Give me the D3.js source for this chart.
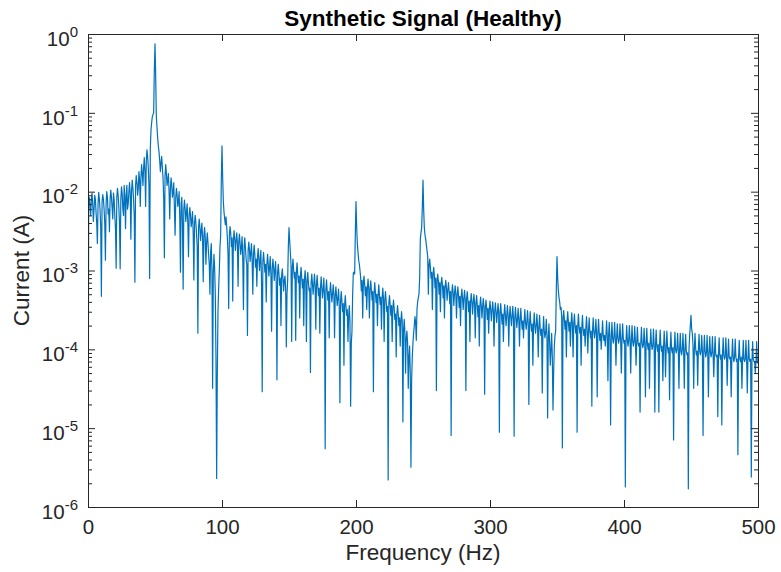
<!DOCTYPE html>
<html><head><meta charset="utf-8">
<script src="https://cdn.jsdelivr.net/npm/d3@7"></script>
<style>body{margin:0;background:#fff}svg{display:block}</style>
</head><body><svg id="chart" width="781" height="572"></svg>
<script>
// ---- data ----
// amplitude at whole-Hz bins: 0, 1, 2, ... 500 Hz
const amplitudeWholeHz = [
1e-7,8.5e-3,5.0e-3,9.6e-3,4.2e-3,9.0e-3,5.5e-3,2.2e-3,9.8e-3,5.8e-3,
4.7e-4,9.2e-3,6.0e-3,1.35e-3,1.0e-2,5.2e-3,3.1e-3,1.05e-2,6.2e-3,9.6e-3,
5.0e-3,1.07e-3,1.1e-2,6.5e-3,1.05e-3,1.15e-2,6.0e-3,1.2e-2,3.4e-3,1.2e-2,
7.0e-3,1.3e-2,2.5e-3,1.4e-2,8.0e-3,7.1e-4,1.6e-2,9.0e-3,1.8e-2,6.5e-3,
2.2e-2,1.2e-2,2.7e-2,6.5e-3,3.4e-2,2.0e-2,7.9e-4,6.0e-2,9.0e-2,1.0e-1,
7.5e-1,9.0e-2,4.8e-2,3.2e-2,1.8e-2,2.8e-2,1.5e-2,1.45e-3,2.2e-2,1.2e-2,
1.7e-2,4.5e-3,1.5e-2,8.5e-3,1.3e-2,2.8e-3,1.1e-2,6.5e-3,1.0e-2,9.5e-4,
8.5e-3,5.8e-4,7.8e-3,4.2e-3,7.0e-3,1.5e-3,6.3e-3,3.6e-3,5.6e-3,7.6e-4,
5.0e-3,2.9e-3,1.6e-4,4.5e-3,2.4e-3,4.0e-3,7.2e-4,3.5e-3,1.2e-3,3.0e-3,
1.6e-3,5.0e-4,2.2e-3,3.2e-5,1.6e-3,5.0e-4,2.3e-6,3.0e-4,1.0e-3,2.8e-3,
3.8e-2,7.5e-3,4.5e-3,4.8e-3,2.6e-3,3.3e-4,3.6e-3,2.0e-3,4.1e-4,3.2e-3,
1.8e-3,3.0e-3,6.3e-4,2.9e-3,1.6e-3,2.7e-3,3.2e-4,2.6e-3,1.4e-3,1.5e-4,
2.3e-3,1.3e-3,2.2e-3,5.0e-4,2.1e-3,1.1e-3,6.3e-4,1.9e-3,1.0e-3,1.8e-3,
2.9e-5,1.7e-3,9.5e-4,4.0e-4,1.6e-3,8.5e-4,1.5e-3,1.7e-4,1.4e-3,7.5e-4,
1.3e-3,4.1e-5,1.2e-3,6.5e-4,2.0e-4,1.05e-3,5.5e-4,8.5e-4,1.07e-4,7.5e-4,
3.5e-3,1.7e-3,1.26e-4,1.4e-3,8.0e-4,1.3e-4,1.25e-3,7.0e-4,2.5e-4,1.1e-3,
6.0e-4,2.0e-4,1.0e-3,1.26e-4,9.5e-4,5.5e-4,5.1e-5,9.0e-4,5.0e-4,9.0e-4,
1.8e-4,8.7e-4,4.8e-4,1.6e-4,8.3e-4,4.5e-4,8.0e-4,5.5e-6,7.6e-4,4.2e-4,
1.4e-4,7.0e-4,4.0e-4,6.6e-4,1.4e-4,6.2e-4,3.6e-4,5.8e-4,2.1e-5,5.4e-4,
3.0e-4,6.3e-5,4.8e-4,2.7e-4,1.26e-4,3.6e-4,1.9e-5,1.7e-4,9.3e-4,9.0e-4,
7.5e-3,2.2e-3,1.35e-3,1.0e-3,5.5e-4,2.5e-4,8.5e-4,4.8e-4,3.2e-4,7.8e-4,
2.5e-4,7.4e-4,4.2e-4,2.9e-5,7.0e-4,3.9e-4,2.0e-4,6.6e-4,3.7e-4,1.8e-4,
6.0e-4,1.26e-4,5.4e-4,3.0e-4,2.2e-6,4.8e-4,2.7e-4,1.26e-4,4.2e-4,2.4e-4,
8.0e-5,3.6e-4,2.0e-4,1.1e-4,3.0e-4,1.2e-5,2.4e-4,5.0e-5,1.7e-4,3.2e-5,
1.1e-4,3.2e-6,8.0e-5,1.6e-4,2.6e-4,1.3e-4,4.0e-4,5.0e-4,2.5e-3,3.5e-3,
1.4e-2,3.5e-3,2.5e-3,1.8e-3,5.0e-4,1.4e-3,8.0e-4,3.2e-4,1.1e-3,6.0e-4,
3.0e-5,9.0e-4,5.0e-4,3.0e-4,8.2e-4,4.5e-4,2.5e-4,7.5e-4,4.2e-4,7.0e-4,
3.8e-4,8.1e-6,6.6e-4,3.6e-4,6.4e-4,2.5e-4,6.2e-4,3.4e-4,2.0e-4,5.8e-4,
3.2e-4,5.6e-4,3.0e-5,5.4e-4,3.0e-4,1.26e-4,5.1e-4,2.8e-4,5.0e-4,1.4e-4,
4.8e-4,2.6e-4,1.1e-4,4.6e-4,2.5e-4,4.4e-4,2.7e-5,4.2e-4,2.4e-4,1.6e-4,
4.1e-4,2.3e-4,4.0e-4,1.1e-4,3.9e-4,2.2e-4,3.8e-4,8.9e-6,3.8e-4,2.1e-4,
1.26e-4,3.7e-4,2.0e-4,3.6e-4,1.1e-4,3.5e-4,2.0e-4,3.5e-4,7.9e-6,3.4e-4,
1.9e-4,3.3e-4,1.1e-4,3.3e-4,1.8e-4,1.4e-4,3.2e-4,1.8e-4,3.1e-4,2.0e-5,
3.0e-4,1.7e-4,6.3e-5,2.9e-4,1.6e-4,2.8e-4,8.0e-5,2.7e-4,1.5e-4,2.8e-5,
2.6e-4,1.4e-4,2.4e-4,1.35e-5,2.1e-4,6.3e-5,1.6e-4,1.7e-5,1.1e-4,1.7e-4,
1.5e-3,5.6e-4,4.0e-4,3.4e-4,5.6e-6,3.1e-4,1.8e-4,8.0e-5,3.0e-4,1.7e-4,
1.1e-4,2.9e-4,8.0e-5,2.8e-4,1.6e-4,8.9e-6,2.8e-4,1.6e-4,6.3e-5,2.7e-4,
1.5e-4,1.1e-4,2.6e-4,9.0e-5,2.5e-4,1.4e-4,1.9e-5,2.5e-4,1.4e-4,2.4e-4,
2.5e-5,2.4e-4,1.3e-4,1.0e-4,2.3e-4,1.3e-4,1.1e-4,2.3e-4,4.0e-5,2.2e-4,
1.1e-5,2.2e-4,1.2e-4,2.2e-4,6.3e-5,2.1e-4,1.2e-4,2.1e-4,5.0e-5,2.1e-4,
1.2e-4,1.8e-6,2.0e-4,1.1e-4,2.0e-4,5.0e-5,2.0e-4,1.1e-4,1.95e-4,6.3e-5,
1.9e-4,1.1e-4,1.6e-5,1.9e-4,1.05e-4,1.85e-4,2.5e-5,1.85e-4,1.0e-4,3.2e-5,
1.8e-4,1.0e-4,1.8e-4,1.6e-5,1.75e-4,9.5e-5,1.6e-5,1.75e-4,9.5e-5,4.0e-5,
1.7e-4,4.5e-5,1.7e-4,9.0e-5,2.3e-5,1.65e-4,9.0e-5,7.1e-6,1.65e-4,9.0e-5,
1.6e-4,3.2e-5,1.6e-4,8.5e-5,1.6e-4,3.2e-5,1.55e-4,8.5e-5,1.7e-6,1.5e-4,
2.7e-4,1.6e-4,3.2e-5,1.6e-4,8.5e-5,3.5e-5,1.55e-4,8.5e-5,1.5e-4,8.1e-6,
1.5e-4,8.0e-5,1.5e-4,2.5e-5,1.45e-4,8.0e-5,1.45e-4,4.5e-5,1.45e-4,8.0e-5,
1.4e-5,1.4e-4,7.5e-5,1.1e-5,1.4e-4,7.5e-5,1.4e-4,3.5e-5,1.35e-4,7.5e-5,
2.5e-5,1.35e-4,7.0e-5,1.35e-4,7.0e-5,4.6e-6,1.3e-4,7.0e-5,3.2e-5,1.3e-4,
7.0e-5,1.3e-4,2.8e-5,1.3e-4,7.0e-5,2.4e-6,1.25e-4,7.0e-5,5.0e-5,1.25e-4,
6.6e-5
];
// amplitude at half-Hz bins: 0.5, 1.5, ... 499.5 Hz
const amplitudeHalfHz = [
7.5e-3,6.5e-3,8.0e-3,7.0e-3,6.0e-3,8.0e-3,4.0e-3,7.0e-3,8.0e-3,3.5e-3,
7.5e-3,8.0e-3,4.0e-3,7.0e-3,8.5e-3,6.0e-3,8.0e-3,8.5e-3,4.5e-3,8.0e-3,
3.5e-3,8.5e-3,9.0e-3,4.0e-3,8.0e-3,9.5e-3,5.0e-3,8.5e-3,9.0e-3,6.0e-3,
1.0e-2,9.5e-3,1.0e-2,1.1e-2,5.0e-3,1.2e-2,1.3e-2,1.1e-2,1.4e-2,1.5e-2,
1.7e-2,2.0e-2,1.8e-2,2.4e-2,2.8e-2,1.2e-2,3.5e-2,7.5e-2,9.5e-2,3.5e-1,
3.0e-1,6.5e-2,3.8e-2,2.5e-2,2.3e-2,2.0e-2,8.0e-3,1.6e-2,1.7e-2,1.4e-2,
1.0e-2,1.1e-2,1.2e-2,1.0e-2,6.0e-3,8.5e-3,9.0e-3,7.5e-3,4.5e-3,7.0e-3,
4.0e-3,6.0e-3,6.0e-3,5.5e-3,4.0e-3,5.0e-3,5.0e-3,4.2e-3,3.0e-3,4.0e-3,
4.0e-3,2.0e-3,3.5e-3,3.5e-3,3.2e-3,2.5e-3,2.8e-3,2.6e-3,2.2e-3,2.3e-3,
1.2e-3,1.7e-3,1.0e-3,9.0e-4,1.1e-3,8.0e-5,5.0e-5,6.0e-4,2.0e-3,1.5e-2,
1.5e-2,5.5e-3,3.8e-3,3.6e-3,1.6e-3,2.8e-3,3.0e-3,2.6e-3,2.4e-3,2.5e-3,
2.4e-3,2.2e-3,2.3e-3,2.2e-3,2.0e-3,1.4e-3,2.0e-3,1.9e-3,1.2e-3,1.8e-3,
1.8e-3,1.7e-3,1.3e-3,1.6e-3,1.6e-3,1.4e-3,1.5e-3,1.4e-3,1.4e-3,7.0e-4,
1.3e-3,1.3e-3,1.2e-3,1.2e-3,1.2e-3,1.1e-3,9.0e-4,1.05e-3,1.1e-3,1.0e-3,
7.0e-4,9.5e-4,9.0e-4,8.0e-4,8.5e-4,8.0e-4,7.5e-4,6.0e-4,5.0e-4,2.0e-3,
2.4e-3,1.2e-3,1.1e-3,1.0e-3,9.5e-4,9.5e-4,9.0e-4,8.5e-4,8.5e-4,8.0e-4,
7.8e-4,7.5e-4,7.5e-4,7.2e-4,7.0e-4,6.0e-4,7.0e-4,6.8e-4,6.6e-4,6.5e-4,
6.5e-4,6.2e-4,6.0e-4,6.0e-4,6.0e-4,5.8e-4,4.5e-4,5.6e-4,5.5e-4,5.4e-4,
5.3e-4,5.2e-4,5.0e-4,4.9e-4,4.8e-4,4.6e-4,4.5e-4,3.5e-4,4.2e-4,4.0e-4,
3.8e-4,3.6e-4,3.5e-4,3.2e-4,2.6e-4,2.2e-4,1.2e-4,5.0e-4,9.5e-4,3.0e-3,
3.5e-3,1.7e-3,1.2e-3,8.0e-4,7.5e-4,7.0e-4,6.5e-4,6.2e-4,6.0e-4,5.8e-4,
5.8e-4,5.6e-4,5.4e-4,5.2e-4,5.2e-4,5.0e-4,4.8e-4,4.8e-4,4.6e-4,4.5e-4,
4.4e-4,4.2e-4,4.1e-4,3.5e-4,3.8e-4,3.7e-4,3.6e-4,3.4e-4,3.3e-4,2.8e-4,
2.8e-4,2.8e-4,2.5e-4,2.3e-4,2.2e-4,1.8e-4,1.6e-4,1.4e-4,1.2e-4,8.0e-5,
5.0e-5,4.0e-5,1.2e-4,2.0e-4,2.2e-4,3.2e-4,4.5e-4,8.0e-4,3.0e-3,6.5e-3,
6.0e-3,2.8e-3,2.1e-3,1.5e-3,1.2e-3,1.1e-3,9.5e-4,9.0e-4,8.5e-4,8.0e-4,
7.5e-4,7.2e-4,7.0e-4,6.8e-4,6.6e-4,6.4e-4,6.2e-4,6.0e-4,5.6e-4,5.5e-4,
5.4e-4,5.3e-4,5.2e-4,5.1e-4,5.0e-4,4.9e-4,4.8e-4,4.7e-4,4.6e-4,4.5e-4,
4.4e-4,4.3e-4,4.3e-4,4.2e-4,4.1e-4,4.0e-4,4.0e-4,3.9e-4,3.8e-4,3.8e-4,
3.7e-4,3.6e-4,3.6e-4,3.5e-4,3.5e-4,3.4e-4,3.4e-4,3.3e-4,3.3e-4,3.2e-4,
3.2e-4,3.1e-4,3.1e-4,3.0e-4,3.0e-4,2.9e-4,2.9e-4,2.9e-4,2.8e-4,2.8e-4,
2.8e-4,2.7e-4,2.7e-4,2.7e-4,2.6e-4,2.6e-4,2.6e-4,2.5e-4,2.5e-4,2.5e-4,
2.4e-4,2.4e-4,2.4e-4,2.3e-4,2.3e-4,2.3e-4,2.2e-4,2.2e-4,2.2e-4,2.1e-4,
2.1e-4,2.1e-4,2.0e-4,2.0e-4,2.0e-4,1.9e-4,1.9e-4,1.8e-4,1.8e-4,1.7e-4,
1.7e-4,1.6e-4,1.5e-4,1.4e-4,1.2e-4,1.0e-4,8.0e-5,5.0e-5,1.5e-4,6.0e-4,
8.0e-4,4.5e-4,3.2e-4,2.6e-4,2.5e-4,2.4e-4,2.3e-4,2.3e-4,2.2e-4,2.2e-4,
2.1e-4,2.1e-4,2.1e-4,2.0e-4,2.0e-4,2.0e-4,1.9e-4,1.9e-4,1.9e-4,1.8e-4,
1.8e-4,1.8e-4,1.8e-4,1.7e-4,1.7e-4,1.7e-4,1.7e-4,1.7e-4,1.6e-4,1.6e-4,
1.6e-4,1.6e-4,1.6e-4,1.5e-4,1.5e-4,1.5e-4,1.5e-4,1.5e-4,1.5e-4,1.4e-4,
1.4e-4,1.4e-4,1.4e-4,1.4e-4,1.4e-4,1.4e-4,1.35e-4,1.35e-4,1.35e-4,1.35e-4,
1.3e-4,1.3e-4,1.3e-4,1.3e-4,1.3e-4,1.3e-4,1.25e-4,1.25e-4,1.25e-4,1.25e-4,
1.2e-4,1.2e-4,1.2e-4,1.2e-4,1.15e-4,1.2e-4,1.15e-4,1.15e-4,1.2e-4,1.15e-4,
1.15e-4,1.1e-4,1.15e-4,1.1e-4,1.1e-4,1.15e-4,1.1e-4,1.1e-4,1.1e-4,1.05e-4,
1.1e-4,1.05e-4,1.05e-4,1.05e-4,1.05e-4,1.0e-4,1.05e-4,1.0e-4,1.0e-4,1.0e-4,
1.0e-4,1.0e-4,9.5e-5,1.0e-4,9.5e-5,1.0e-4,9.5e-5,9.0e-5,1.0e-4,2.0e-4,
1.8e-4,1.1e-4,1.0e-4,1.0e-4,9.5e-5,1.0e-4,9.5e-5,9.5e-5,9.5e-5,9.0e-5,
9.5e-5,9.0e-5,9.0e-5,9.0e-5,9.0e-5,9.0e-5,8.5e-5,9.0e-5,8.5e-5,8.5e-5,
8.5e-5,8.5e-5,8.5e-5,8.5e-5,8.5e-5,8.0e-5,8.5e-5,8.0e-5,8.0e-5,8.0e-5,
8.0e-5,8.0e-5,8.0e-5,8.0e-5,7.5e-5,8.0e-5,7.5e-5,8.0e-5,7.5e-5,7.5e-5,
7.5e-5,7.5e-5,7.5e-5,7.5e-5,7.5e-5,7.0e-5,7.5e-5,7.0e-5,7.0e-5,7.0e-5
];
const xTickValues = [0, 100, 200, 300, 400, 500];
const yTickExponents = [0, -1, -2, -3, -4, -5, -6];
const titleText = "Synthetic Signal (Healthy)";
const xLabelText = "Frequency (Hz)";
const yLabelText = "Current (A)";

// interleave whole-Hz and half-Hz bins into one spectrum
const spectrum = [];
amplitudeWholeHz.forEach((v, i) => {
  spectrum.push({ f: i, v: v });
  if (i < amplitudeHalfHz.length) spectrum.push({ f: i + 0.5, v: amplitudeHalfHz[i] });
});

// ---- layout ----
const svg = d3.select("#chart");
const L = 88, R = 758, T = 34, B = 507;
const axisColor = "#262626";
const lineColor = "#0072BD";
const fontFam = "'Liberation Sans', Arial, Helvetica, sans-serif";
const tickFont = 20.5, supFont = 15, labelFont = 22.5;

const x = d3.scaleLinear().domain([0, 500]).range([L, R]);
const y = d3.scaleLog().domain([1e-6, 1]).range([B, T]);

const majorY = yTickExponents.map(e => Math.pow(10, e));
const minorY = [];
for (let e = -6; e < 0; e++) for (let k = 2; k <= 9; k++) minorY.push(k * Math.pow(10, e));

svg.append("defs").append("clipPath").attr("id", "plotclip")
  .append("rect").attr("x", L).attr("y", T).attr("width", R - L).attr("height", B - T);

// data line
const line = d3.line().x(d => x(d.f)).y(d => y(d.v));
svg.append("path")
  .datum(spectrum)
  .attr("clip-path", "url(#plotclip)")
  .attr("fill", "none")
  .attr("stroke", lineColor)
  .attr("stroke-width", 1.2)
  .attr("stroke-linejoin", "round")
  .attr("d", line);

function styleAxis(g) {
  g.select(".domain").remove();
  g.selectAll(".tick line").attr("stroke", axisColor).attr("stroke-width", 1);
  g.selectAll("text").attr("fill", axisColor).attr("font-family", fontFam).attr("font-size", tickFont);
}

// bottom axis
svg.append("g").attr("transform", `translate(0,${B})`)
  .call(d3.axisBottom(x).tickValues(xTickValues).tickSizeInner(-7).tickSizeOuter(0).tickPadding(12).tickFormat(d3.format("d")))
  .call(styleAxis);
// top axis
svg.append("g").attr("transform", `translate(0,${T})`)
  .call(d3.axisTop(x).tickValues(xTickValues).tickSizeInner(-7).tickSizeOuter(0).tickFormat(""))
  .call(styleAxis);

// left axis major
const gl = svg.append("g").attr("transform", `translate(${L},0)`)
  .call(d3.axisLeft(y).tickValues(majorY).tickSizeInner(-7).tickSizeOuter(0).tickFormat(""))
  .call(styleAxis);
gl.selectAll(".tick").each(function(d) {
  const e = Math.round(Math.log10(d));
  const t = d3.select(this).append("text")
    .attr("x", -10).attr("dy", "0.55em")
    .attr("text-anchor", "end")
    .attr("fill", axisColor).attr("font-family", fontFam).attr("font-size", tickFont);
  t.append("tspan").text("10");
  t.append("tspan").attr("dy", "-0.6em").attr("font-size", supFont).text(String(e));
});
svg.append("g").attr("transform", `translate(${L},0)`)
  .call(d3.axisLeft(y).tickValues(minorY).tickSizeInner(-4).tickSizeOuter(0).tickFormat(""))
  .call(styleAxis);
// right axis
svg.append("g").attr("transform", `translate(${R},0)`)
  .call(d3.axisRight(y).tickValues(majorY).tickSizeInner(-7).tickSizeOuter(0).tickFormat(""))
  .call(styleAxis);
svg.append("g").attr("transform", `translate(${R},0)`)
  .call(d3.axisRight(y).tickValues(minorY).tickSizeInner(-4).tickSizeOuter(0).tickFormat(""))
  .call(styleAxis);

// box
svg.append("rect").attr("x", L).attr("y", T).attr("width", R - L).attr("height", B - T)
  .attr("fill", "none").attr("stroke", axisColor).attr("stroke-width", 1).attr("shape-rendering", "crispEdges");

// title & labels
svg.append("text").attr("x", (L + R) / 2).attr("y", 26)
  .attr("text-anchor", "middle").attr("font-family", fontFam).attr("font-weight", "bold")
  .attr("font-size", labelFont).attr("fill", "#000").text(titleText);
svg.append("text").attr("x", (L + R) / 2).attr("y", 560)
  .attr("text-anchor", "middle").attr("font-family", fontFam)
  .attr("font-size", labelFont).attr("fill", axisColor).text(xLabelText);
svg.append("text").attr("transform", `translate(29,${(T + B) / 2}) rotate(-90)`)
  .attr("text-anchor", "middle").attr("font-family", fontFam)
  .attr("font-size", labelFont).attr("fill", axisColor).text(yLabelText);
</script>
</body></html>
